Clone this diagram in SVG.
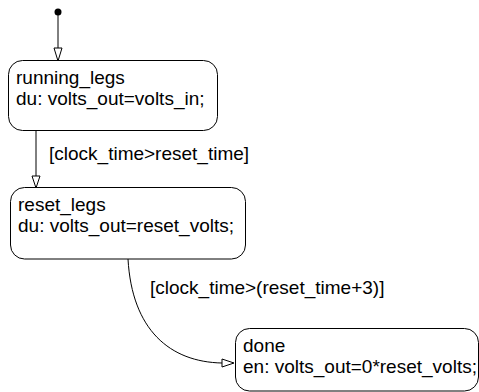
<svg xmlns="http://www.w3.org/2000/svg" width="479" height="392" viewBox="0 0 479 392">
<style>
.box{fill:#fff;stroke:#000;stroke-width:1}
.t{font-family:"Liberation Sans",Arial,sans-serif;font-size:19px;fill:#000}
.c{fill:none;stroke:#000;stroke-width:1}
.ah{fill:#fff;stroke:#000;stroke-width:1}
</style>
<rect width="479" height="392" fill="#fff"/>
<g id="connectors">
<circle cx="58" cy="12" r="3.5" fill="#000"/>
<line class="c" x1="58" y1="12" x2="58" y2="48" stroke="#666"/>
<polygon class="ah" points="54,48 62,48 58,61"/>
<line class="c" x1="36" y1="130" x2="36" y2="176"/>
<polygon class="ah" points="32,176 40,176 36,188"/>
<text class="t" x="49" y="160">[clock_time&gt;reset_time]</text>
<path class="c" d="M128,259 C132,330 170,362 222,363"/>
<polygon class="ah" points="222,359 222,367 234,363"/>
<text class="t" x="150" y="294">[clock_time&gt;(reset_time+3)]</text>
</g>
<g id="running_legs">
<rect class="box" x="8.5" y="60.5" width="209" height="70" rx="14"/>
<text class="t" x="16" y="84">running_legs</text>
<text class="t" x="16" y="105">du: volts_out=volts_in;</text>
</g>
<g id="reset_legs">
<rect class="box" x="10.5" y="187.5" width="235" height="71.5" rx="14"/>
<text class="t" x="18" y="211">reset_legs</text>
<text class="t" x="18" y="232">du: volts_out=reset_volts;</text>
</g>
<g id="done">
<rect class="box" x="235.5" y="328.5" width="243" height="62.5" rx="14"/>
<text class="t" x="243" y="352">done</text>
<text class="t" x="243" y="373">en: volts_out=0*reset_volts;</text>
</g>
</svg>
